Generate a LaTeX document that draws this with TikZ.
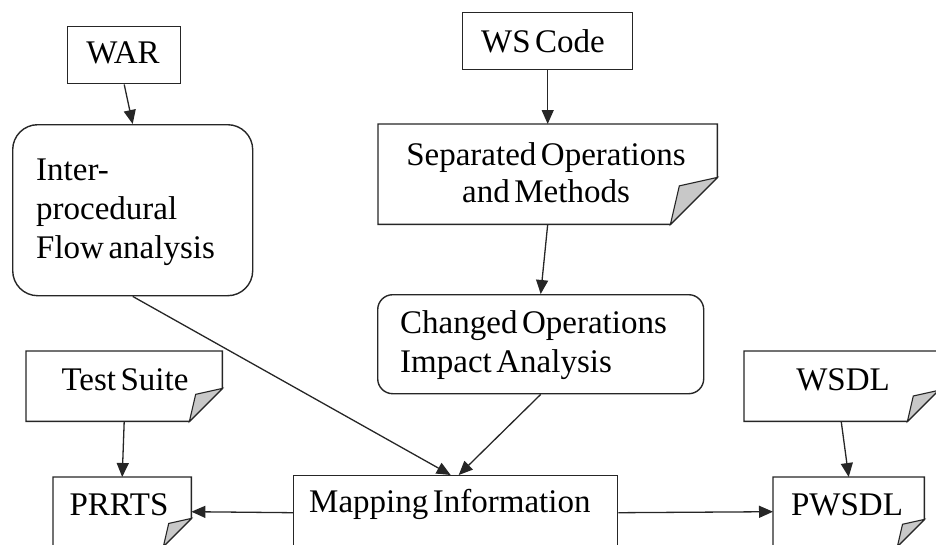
\documentclass[tikz,border=0pt]{standalone}
\usepackage{fontspec}
\setmainfont{Liberation Serif}[WordSpace=0.55]
\usetikzlibrary{calc,arrows.meta}
\definecolor{linegray}{HTML}{262626}
\definecolor{foldgray}{HTML}{C8C8C8}
\tikzset{
  boxline/.style={draw=linegray, line width=1.4pt},
  plainbox/.style={boxline, inner sep=0pt, anchor=north west},
  roundbox/.style={plainbox, rounded corners=#1},
  foldshape/.style={inner sep=0pt, anchor=north west, draw=none},
  lbl/.style={inner sep=0pt, font=\fontsize{33}{38.5}\selectfont, text=black},
  arr/.style={draw=linegray, line width=1.3pt, -{Triangle[length=14pt,width=12pt]}}
}
\newcommand\drawfolded[2]{%
  \draw[boxline, fill=white] (#1.north west) -- (#1.north east) -- ($(#1.south east)+(0,-#2)$)
     -- ($(#1.south east)+(-#2,0)$) -- (#1.south west) -- cycle;
  \draw[boxline, line width=1.1pt, fill=foldgray] ($(#1.south east)+(0,-#2)$)
     -- ($(#1.south east)+({-0.81*#2},{-0.82*#2})$) -- ($(#1.south east)+(-#2,0)$) -- cycle;
}
\begin{document}
\begin{tikzpicture}[x=1pt,y=-1pt]
\useasboundingbox (0,0) rectangle (936,544);
\clip (0,0) rectangle (936,544);
% boxes
\node[plainbox, minimum width=113pt, minimum height=57pt] (war) at (67,26) {};
\node[plainbox, minimum width=170pt, minimum height=57pt] (ws) at (462,12) {};
\node[roundbox=25pt, minimum width=240pt, minimum height=171pt] (inter) at (12,124) {};
\node[foldshape, minimum width=339pt, minimum height=100pt] (sep) at (378,124) {};
\node[roundbox=15pt, minimum width=326pt, minimum height=99pt] (chg) at (377,294) {};
\node[foldshape, minimum width=196pt, minimum height=70pt] (ts) at (26,351) {};
\node[foldshape, minimum width=194pt, minimum height=70pt] (wsdl) at (744,351) {};
\node[foldshape, minimum width=138pt, minimum height=69pt] (prrts) at (53,477) {};
\node[plainbox, minimum width=324pt, minimum height=80pt] (map) at (293,475) {};
\node[foldshape, minimum width=151pt, minimum height=69pt] (pwsdl) at (773,477) {};
\drawfolded{sep}{47}
\drawfolded{ts}{33}
\drawfolded{wsdl}{31}
\drawfolded{prrts}{28}
\drawfolded{pwsdl}{27}
% texts
\node[lbl, anchor=base] (warT) at (123,63) {WAR};
\node[lbl, anchor=base] (wsT) at (543,52) {WS Code};
\node[lbl, anchor=base west] (interT1) at (36,180) {Inter-};
\node[lbl, anchor=base west] (interT2) at (36,219) {procedural};
\node[lbl, anchor=base west] (interT3) at (36,258) {Flow analysis};
\node[lbl, anchor=base] (sepT1) at (546,165) {Separated Operations};
\node[lbl, anchor=base] (sepT2) at (546,202) {and Methods};
\node[lbl, anchor=base west] (chgT1) at (400,333) {Changed Operations};
\node[lbl, anchor=base west] (chgT2) at (400,372) {Impact Analysis};
\node[lbl, anchor=base] (tsT) at (125,390) {Test Suite};
\node[lbl, anchor=base] (wsdlT) at (843,390) {WSDL};
\node[lbl, anchor=base west] (mapT) at (309,512) {Mapping Information};
\node[lbl, anchor=base] (prrtsT) at (119,515) {PRRTS};
\node[lbl, anchor=base] (pwsdlT) at (847,515) {PWSDL};
% connectors
\draw[arr] (war.south) -- (inter.north);
\draw[arr] (ws.south) -- (sep.north);
\draw[arr] (sep.south) -- (chg.north);
\draw[arr] (inter.south) -- ([xshift=-5pt]map.north);
\draw[arr] (chg.south) -- ([xshift=3pt]map.north);
\draw[arr] (ts.south) -- (prrts.north);
\draw[arr] (wsdl.south) -- (pwsdl.north);
\draw[arr] ([yshift=3pt]map.west) -- (prrts.east);
\draw[arr] ([yshift=3pt]map.east) -- (pwsdl.west);
\end{tikzpicture}
\end{document}
